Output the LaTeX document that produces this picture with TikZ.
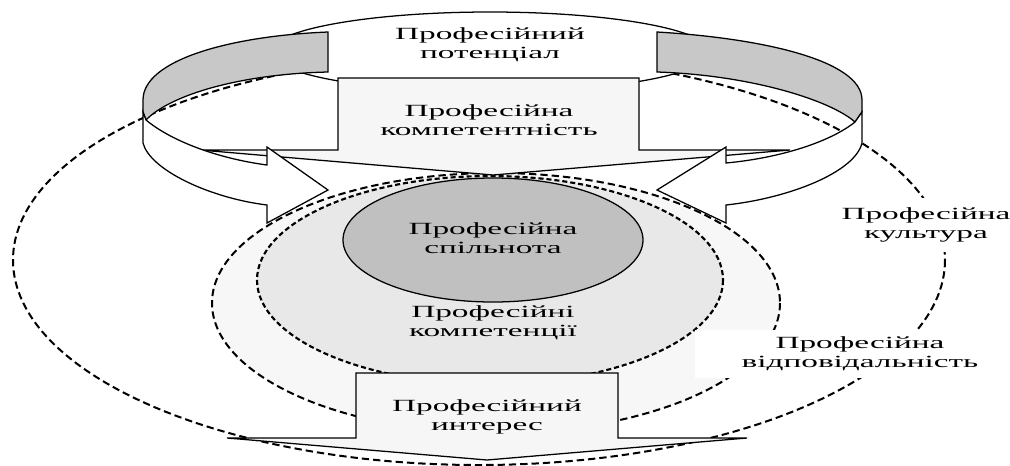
\documentclass[tikz,border=0pt]{standalone}
\usepackage{fontspec}
\setmainfont{Liberation Serif}[FakeStretch=1.95]
\usetikzlibrary{positioning}
\definecolor{bandgray}{RGB}{200,200,200}
\definecolor{coregray}{RGB}{192,192,192}
\definecolor{innergray}{RGB}{232,232,232}
\definecolor{outergray}{RGB}{247,247,247}
\definecolor{boxgray}{RGB}{246,246,246}
\tikzset{
 txt/.style
  = {align=center, inner sep=0pt, font=\fontsize{12.8}{14.5}\selectfont},
 edge/.style
  = {draw, line width=0.95pt, line join=miter},
 ring/.style
  = {draw, line width=1.5pt, dash pattern=on 5.5pt off 3pt},
 ringin/.style
  = {draw, line width=1.6pt, dash pattern=on 3.8pt off 2.2pt},
 band/.style
  = {edge, fill=bandgray},
 front/.style
  = {edge, fill=white},
}

\begin{document}
\begin{tikzpicture}[x=0.75pt, y=-0.75pt]
\useasboundingbox (0,0) rectangle (1010,465);
% dashed rings
\draw [ring] (479,260) ellipse [x radius=466, y radius=205];
\draw [ring, fill=outergray] (496,303) ellipse [x radius=284, y radius=130];
\draw [ringin, fill=innergray] (490,280) ellipse [x radius=233, y radius=104];
\draw [edge, fill=coregray] (493,240) ellipse [x radius=150, y radius=62];
% top ellipse
\draw [edge, fill=white] (490,52) ellipse [x radius=220, y radius=40];
% down arrow from the top
\draw [edge, fill=boxgray] (338,78) -- (639,78) -- (639,150) -- (790,150) -- (493,175)
  -- (200,150) -- (338,150) -- cycle;
% left ribbon
\draw [band] (328,32) .. controls (230,36) and (143,60) .. (143,100) -- (143,112)
  -- (146,120) .. controls (170,95) and (240,74) .. (328,72) -- cycle;
\draw [front] (143,112) -- (143,143) .. controls (150,170) and (210,198) .. (267,205)
  -- (267,223) -- (328,190) -- (267,147) -- (267,165)
  .. controls (215,158) and (170,140) .. (146,120) -- cycle;
% right ribbon
\draw [band] (657,32) .. controls (760,38) and (862,60) .. (862,100) -- (862,112)
  -- (855,122) .. controls (830,100) and (750,75) .. (657,72) -- cycle;
\draw [front] (862,112) -- (862,143) .. controls (855,172) and (790,198) .. (726,205)
  -- (726,223) -- (657,190) -- (726,147) -- (726,163)
  .. controls (780,158) and (830,142) .. (855,122) -- cycle;
% down arrow at the bottom
\draw [edge, fill=boxgray] (356,373) -- (618,373) -- (618,438) -- (747,438) -- (487,460)
  -- (227,438) -- (356,438) -- cycle;
% labels
\node [txt] (potential) at (490,45) {Професійний\\потенціал};
\node [txt] (competence) at (489,120) {Професійна\\компетентність};
\node [txt] (community) at (493,238) {Професійна\\спільнота};
\node [txt] (competencies) at (493,323) {Професійні\\компетенції};
\node [txt] (interest) at (487,417) {Професійний\\интерес};
\node [txt, fill=white, minimum height=40pt, inner xsep=2pt] (culture) at (926,225) {Професійна\\культура};
\node [txt, fill=white, minimum width=247pt, minimum height=36pt] (responsibility) at (860,354) {Професійна\\відповідальність};
\end{tikzpicture}
\end{document}
